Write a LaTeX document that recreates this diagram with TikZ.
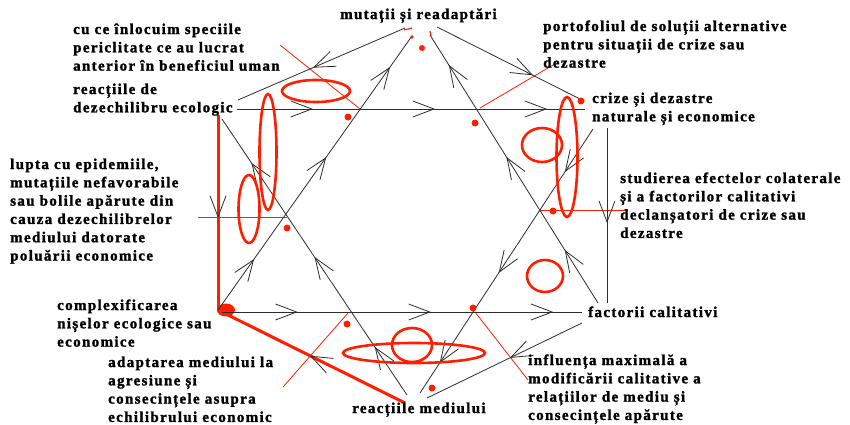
\documentclass[tikz,border=0pt]{standalone}
\usepackage{fontspec}
\newfontfamily\lblfont{Liberation Serif}[LetterSpace=9,BoldFeatures={FakeBold=1.6}]
\usetikzlibrary{arrows.meta,decorations.markings}
\definecolor{myred}{RGB}{255,30,0}
\definecolor{lnc}{RGB}{45,45,45}
\tikzset{
  lbl/.style={anchor=north west, inner sep=0pt, align=left, font=\lblfont\bfseries\fontsize{15}{18.3}\selectfont},
  ln/.style={draw=lnc, line width=0.8pt},
  midarr/.style={postaction={decorate, decoration={markings, mark=at position #1 with {\arrow[lnc, line width=0.8pt]{Straight Barb[length=21pt,width=16pt]}}}}},
  thinred/.style={draw=myred, line width=0.8pt},
  thickred/.style={draw=myred, line width=3pt},
  ring/.style={draw=myred, line width=2.6pt},
  rdot/.style={fill=myred},
}
\begin{document}
\begin{tikzpicture}[x=1pt,y=-1pt]
\fill[white] (0,0) rectangle (850,425);
\useasboundingbox (0,0) rectangle (850,425);
% coordinates
\coordinate (hL) at (237,109); \coordinate (hR) at (585,109);
\coordinate (bL) at (222,312); \coordinate (bR) at (582,312);
\coordinate (apA) at (412,36); \coordinate (cornA) at (218,310);
\coordinate (apB) at (430,35); \coordinate (endB) at (598,303);
\coordinate (stC) at (222,119); \coordinate (endC) at (407,395);
\coordinate (stD) at (593,129); \coordinate (endD) at (420,393);
\coordinate (tlA) at (405,28); \coordinate (tlB) at (238,100);
\coordinate (trA) at (437,27); \coordinate (trB) at (582,100);
\coordinate (vA) at (607,128); \coordinate (vB) at (607,303);
\coordinate (brA) at (582,323); \coordinate (brB) at (427,398);
\coordinate (rvA) at (218,115); \coordinate (rvB) at (218,310);
\coordinate (rdA) at (405,403);
% red thin pointer lines
\coordinate (p1a) at (280,45); \coordinate (p1b) at (360,109);
\coordinate (p2a) at (553,65); \coordinate (p2b) at (480,108);
\coordinate (p3a) at (540,210); \coordinate (p3b) at (627,210);
\coordinate (p4a) at (198,217); \coordinate (p4b) at (287,217);
\coordinate (p5a) at (348,313); \coordinate (p5b) at (283,387);
\coordinate (p6a) at (475,312); \coordinate (p6b) at (528,380);
\draw[thinred] (p1a) -- (p1b);
\draw[thinred] (p2a) -- (p2b);
\draw[thinred] (p3a) -- (p3b);
\draw[thinred] (p4a) -- (p4b);
\draw[thinred] (p5a) -- (p5b);
\draw[thinred] (p6a) -- (p6b);
% thick red lines
\draw[thickred] (rvA) -- (rvB);
\draw[thickred] (cornA) -- (rdA);
\path[midarr=0.528] (rvA) -- (rvB);
\path[midarr=0.508] (rdA) -- (cornA);
\fill[myred] (226,310) ellipse [x radius=9pt, y radius=6.5pt];
% black lines
\draw[ln, midarr=0.218, midarr=0.569, midarr=0.891] (hL) -- (hR);
\draw[ln, midarr=0.21, midarr=0.58, midarr=0.92] (bL) -- (bR);
\draw[ln, midarr=0.186, midarr=0.558, midarr=0.887] (cornA) -- (apA);
\draw[ln, midarr=0.198, midarr=0.545, midarr=0.888] (endB) -- (apB);
\draw[ln, midarr=0.174, midarr=0.5, midarr=0.841] (endC) -- (stC);
\draw[ln, midarr=0.163, midarr=0.545, midarr=0.886] (stD) -- (endD);
\draw[ln, midarr=0.551] (tlA) -- (tlB);
\draw[ln, midarr=0.662] (trA) -- (trB);
\draw[ln, midarr=0.543] (vA) -- (vB);
\draw[ln, midarr=0.465] (brA) -- (brB);
% red rings
\draw[ring] (316,91) ellipse [x radius=34pt, y radius=11pt];
\draw[ring] (268,152) ellipse [x radius=8.5pt, y radius=58pt];
\draw[ring] (249,209) ellipse [x radius=10.5pt, y radius=34pt];
\draw[ring] (414,353) ellipse [x radius=71pt, y radius=10pt];
\draw[ring] (412,345) ellipse [x radius=20pt, y radius=17pt];
\draw[ring] (545,276) ellipse [x radius=18pt, y radius=16pt];
\draw[ring] (542,145) ellipse [x radius=20pt, y radius=17pt];
\draw[ring] (567,157) ellipse [x radius=10.5pt, y radius=60pt];
% red dots
\foreach \p in {(348,117),(475,123),(553,211),(287,228),(347,324),(473,308),(432,388),(581,101)}
  \fill[rdot] \p circle [radius=3.5pt];
\fill[rdot] (422,48) circle [radius=3pt];
\fill[rdot] (412,37) circle [radius=1.8pt];
\draw[thinred, line width=1.2pt] (404,30) -- (412,28);
\draw[thinred, line width=1.2pt] (430,31) -- (431,36);
% labels
\node[lbl] (t1) at (73,21) {\strut cu ce înlocuim speciile\\periclitate ce au lucrat\\anterior în beneficiul uman};
\node[lbl] (t2) at (73,81) {\strut reacțiile de\\dezechilibru ecologic};
\node[lbl] (t3) at (10,156) {\strut lupta cu epidemiile,\\mutațiile nefavorabile\\sau bolile apărute din\\cauza dezechilibrelor\\mediului datorate\\poluării economice};
\node[lbl] (t4) at (57,297) {\strut complexificarea\\nișelor ecologice sau\\economice};
\node[lbl] (t5) at (108,354) {\strut adaptarea mediului la\\agresiune și\\consecințele asupra\\echilibrului economic};
\node[lbl] (t6) at (352,400) {\strut reacțiile mediului};
\node[lbl] (t7) at (528,352) {\strut influența maximală a\\modificării calitative a\\relațiilor de mediu și\\consecințele apărute};
\node[lbl] (t8) at (588,304) {\strut factorii calitativi};
\node[lbl] (t9) at (620,170) {\strut studierea efectelor colaterale\\și a factorilor calitativi\\declanșatori de crize sau\\dezastre};
\node[lbl] (t10) at (592,90) {\strut crize și dezastre\\naturale și economice};
\node[lbl] (t11) at (543,18) {\strut portofoliul de soluții alternative\\pentru situații de crize sau\\dezastre};
\node[lbl] (t12) at (340,6) {\strut mutații și readaptări};
\end{tikzpicture}
\end{document}
